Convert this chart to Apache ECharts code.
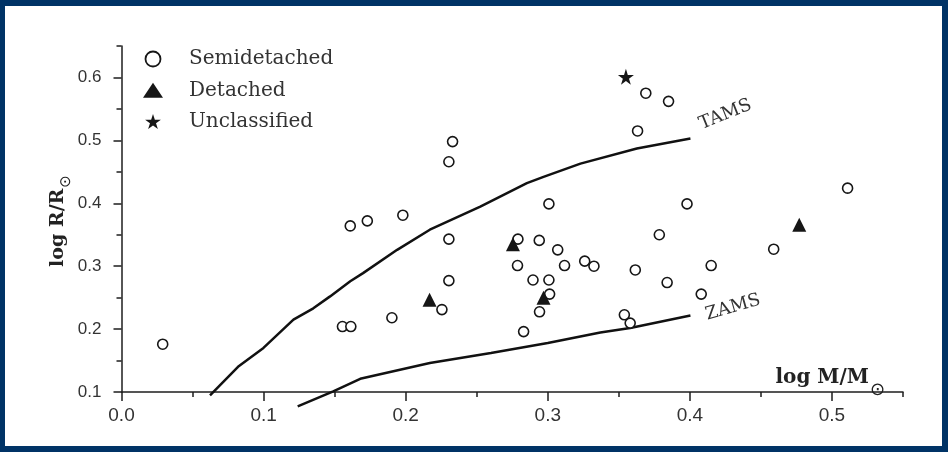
<!DOCTYPE html>
<html><head><meta charset="utf-8">
<script src="https://cdn.jsdelivr.net/npm/echarts@6/dist/echarts.min.js"></script>
<style>
html,body{margin:0;padding:0;background:#fff;}
#c{width:948px;height:452px;position:absolute;left:0;top:0;}
#frame{position:absolute;left:0;top:0;width:948px;height:452px;box-sizing:border-box;border-style:solid;border-color:#003366;border-width:6px 6px 6px 5px;pointer-events:none;}
</style></head><body>
<div id="c"></div><div id="frame"></div>
<script>
const legendNames = ['Semidetached', 'Detached', 'Unclassified'];
const semidetached = [
  [0.029, 0.176], [0.1555, 0.204], [0.1614, 0.204], [0.161, 0.364], [0.173, 0.372],
  [0.198, 0.381], [0.1903, 0.218], [0.2255, 0.231], [0.2304, 0.343], [0.2304, 0.277],
  [0.2304, 0.466], [0.233, 0.498], [0.279, 0.343], [0.2787, 0.301], [0.283, 0.196],
  [0.2896, 0.278], [0.294, 0.341], [0.2942, 0.2275], [0.3008, 0.278], [0.3013, 0.2556],
  [0.3008, 0.399], [0.307, 0.326], [0.3118, 0.301], [0.326, 0.308], [0.3325, 0.300],
  [0.3539, 0.2227], [0.358, 0.2095], [0.3616, 0.294], [0.3632, 0.515], [0.369, 0.575],
  [0.385, 0.562], [0.3785, 0.350], [0.384, 0.274], [0.398, 0.399], [0.408, 0.2556],
  [0.415, 0.301], [0.459, 0.327], [0.511, 0.424]
];
const detached = [[0.2168, 0.2465], [0.2755, 0.335], [0.297, 0.250], [0.477, 0.366]];
const unclassified = [[0.355, 0.601]];
const tams = [
  [0.0623, 0.0946], [0.082, 0.140], [0.0999, 0.170], [0.121, 0.215], [0.135, 0.233],
  [0.1468, 0.252], [0.161, 0.276], [0.170, 0.289], [0.194, 0.326], [0.217, 0.358],
  [0.2525, 0.3946], [0.2853, 0.432], [0.297, 0.442], [0.323, 0.463], [0.3627, 0.487],
  [0.4004, 0.503]
];
const zams = [
  [0.124, 0.077], [0.149, 0.101], [0.168, 0.121], [0.217, 0.146], [0.26, 0.162],
  [0.30, 0.178], [0.337, 0.1946], [0.358, 0.2016], [0.4004, 0.2216]
];
const xMajorTicks = [0, 0.1, 0.2, 0.3, 0.4, 0.5];
const xMinorTicks = [0.05, 0.15, 0.25, 0.35, 0.45, 0.55];
const yMajorTicks = [0.1, 0.2, 0.3, 0.4, 0.5, 0.6];
const yMinorTicks = [0.15, 0.25, 0.35, 0.45, 0.55, 0.65];

const ink = '#161616';
const axisLineStyle = { color: '#1e1e1e', width: 1.5 };
const tickFont = 'Liberation Sans, Arial, sans-serif';
const serif = 'DejaVu Serif, serif';
const starPath = 'path://M50,0 L61.2,34.5 L97.6,34.5 L68.2,55.9 L79.4,90.5 L50,69.1 L20.6,90.5 L31.8,55.9 L2.4,34.5 L38.8,34.5 Z';

const chart = echarts.init(document.getElementById('c'), null, { renderer: 'canvas' });
chart.setOption({
  backgroundColor: '#fff',
  animation: false,
  grid: { left: 121.5, right: 45, top: 46, bottom: 60, outerBoundsMode: 'none', containLabel: false },
  legend: {
    orient: 'vertical', left: 143, top: 49, padding: 0,
    itemWidth: 20, itemHeight: 15, itemGap: 11.3,
    formatter: '{t|{name}}',
    textStyle: { rich: { t: { fontFamily: serif, fontSize: 20, color: '#333', lineHeight: 22, padding: [0, 0, 0, 21] } } },
    data: [
      { name: legendNames[0], icon: 'circle', itemStyle: { color: '#fff', borderColor: ink, borderWidth: 1.8, opacity: 1 } },
      { name: legendNames[1], icon: 'triangle', itemStyle: { color: ink, borderWidth: 0, opacity: 1 } },
      { name: legendNames[2], icon: starPath, itemStyle: { color: ink, borderWidth: 0, opacity: 1 } }
    ]
  },
  xAxis: [
    {
      type: 'value', min: 0, max: 0.55, position: 'bottom',
      axisLine: { onZero: false, lineStyle: axisLineStyle },
      axisTick: { customValues: xMajorTicks, length: 9, lineStyle: axisLineStyle },
      axisLabel: { customValues: xMajorTicks, formatter: v => v.toFixed(1), fontSize: 19, fontFamily: tickFont, color: '#333', margin: 14 },
      splitLine: { show: false },
      name: '{a|log M/M}{b|⊙}',
      nameLocation: 'end', nameGap: -18, nameMoveOverlap: false,
      nameTextStyle: {
        align: 'right', verticalAlign: 'middle', padding: [0, 0, 29, 0],
        rich: {
          a: { fontFamily: serif, fontWeight: 'bold', fontSize: 20, color: '#222', lineHeight: 22, verticalAlign: 'middle' },
          b: { fontFamily: 'DejaVu Sans', fontSize: 18, color: '#222', lineHeight: 18, verticalAlign: 'middle', padding: [25, 0, 0, 1] }
        }
      }
    },
    {
      type: 'value', min: 0, max: 0.55, position: 'bottom', offset: 0,
      axisLine: { show: false, onZero: false },
      axisTick: { customValues: xMinorTicks, length: 5, lineStyle: axisLineStyle },
      axisLabel: { show: false },
      splitLine: { show: false }
    }
  ],
  yAxis: [
    {
      type: 'value', min: 0.1, max: 0.65, position: 'left',
      axisLine: { show: true, onZero: false, lineStyle: axisLineStyle },
      axisTick: { show: true, customValues: yMajorTicks, length: 8, lineStyle: axisLineStyle },
      axisLabel: { customValues: yMajorTicks, formatter: v => v.toFixed(1), fontSize: 17, fontFamily: tickFont, color: '#333', margin: 20 },
      splitLine: { show: false },
      name: '{a|log R/R}{b|⊙}',
      nameLocation: 'middle', nameRotate: 90, nameGap: 53, nameMoveOverlap: false,
      nameTextStyle: {
        padding: [0, 4, 0, 0],
        rich: {
          a: { fontFamily: serif, fontWeight: 'bold', fontSize: 19, color: '#222', lineHeight: 21, verticalAlign: 'middle' },
          b: { fontFamily: 'DejaVu Sans', fontSize: 15, color: '#222', lineHeight: 15, verticalAlign: 'middle', padding: [17, 0, 0, 1] }
        }
      }
    },
    {
      type: 'value', min: 0.1, max: 0.65, position: 'left', offset: 0,
      axisLine: { show: false, onZero: false },
      axisTick: { show: true, customValues: yMinorTicks, length: 5, lineStyle: axisLineStyle },
      axisLabel: { show: false },
      splitLine: { show: false }
    }
  ],
  series: [
    {
      type: 'line', data: tams, symbol: 'none', clip: false, silent: true, z: 2,
      lineStyle: { color: '#111', width: 2.5 },
      endLabel: { show: true, formatter: 'TAMS', rotate: 22, distance: 0, offset: [14, -9], fontFamily: serif, fontSize: 18, color: '#333' }
    },
    {
      type: 'line', data: zams, symbol: 'none', clip: false, silent: true, z: 2,
      lineStyle: { color: '#111', width: 2.5 },
      endLabel: { show: true, formatter: 'ZAMS', rotate: 16, distance: 0, offset: [15, 4], fontFamily: serif, fontSize: 18, color: '#333' }
    },
    {
      name: legendNames[0], type: 'scatter', data: semidetached, symbol: 'circle', symbolSize: 10, z: 5,
      itemStyle: { color: '#fff', borderColor: ink, borderWidth: 1.6, opacity: 1 }
    },
    {
      name: legendNames[1], type: 'scatter', data: detached, symbol: 'triangle', symbolSize: 14, z: 6,
      itemStyle: { color: ink, opacity: 1 }
    },
    {
      name: legendNames[2], type: 'scatter', data: unclassified, symbol: starPath, symbolSize: 16, z: 6,
      itemStyle: { color: ink, opacity: 1 }
    }
  ]
});
</script>
</body></html>
